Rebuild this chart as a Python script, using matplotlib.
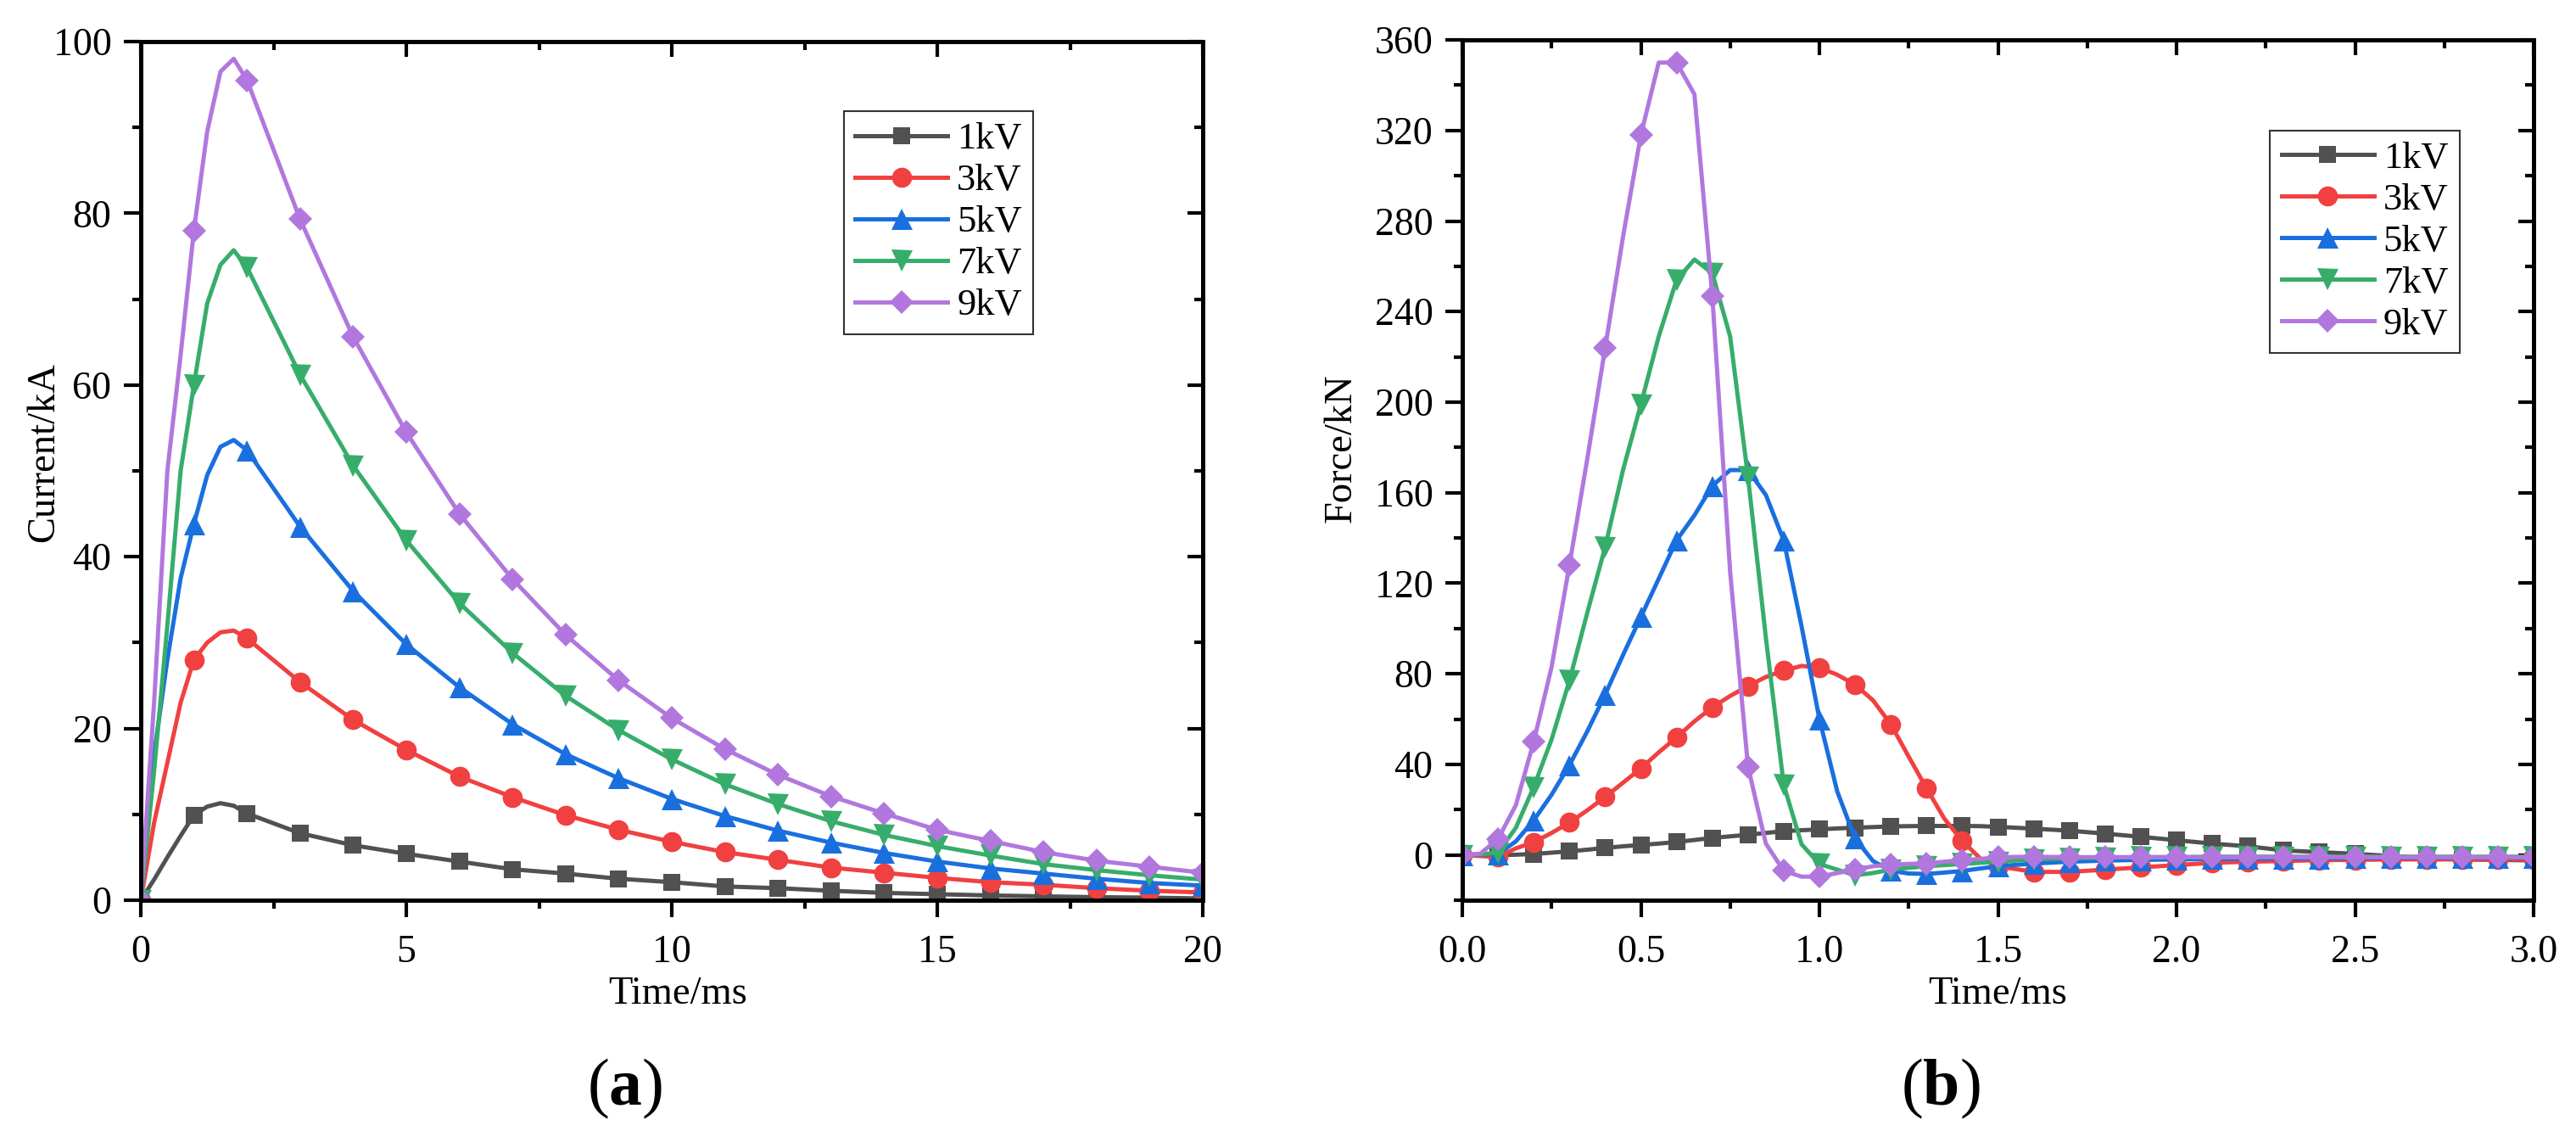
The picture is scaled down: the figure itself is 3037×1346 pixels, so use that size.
import numpy as np
import matplotlib
matplotlib.use('Agg')
import matplotlib.pyplot as plt
from matplotlib.ticker import MultipleLocator

plt.rcParams['font.family'] = ['Liberation Serif', 'DejaVu Serif']
plt.rcParams['mathtext.fontset'] = 'custom'
plt.rcParams['mathtext.rm'] = 'Liberation Serif'
plt.rcParams['mathtext.bf'] = 'Liberation Serif:bold'

# ---- panel (a): discharge current, kA ----
t_a = [0, 0.25, 0.5, 0.75, 1, 1.25, 1.5, 1.75, 2, 3, 4, 5, 6, 7, 8, 9, 10,
       11, 12, 13, 14, 15, 16, 17, 18, 19, 20]
i_1kv = [0, 2.4, 5.0, 7.5, 9.9, 10.9, 11.3, 11.0, 10.1, 7.8, 6.4, 5.4, 4.5, 3.6,
         3.1, 2.5, 2.1, 1.6, 1.4, 1.1, 0.85, 0.7, 0.55, 0.45, 0.35, 0.3, 0.2]
i_3kv = [0, 9, 16, 23, 28.0, 30.0, 31.2, 31.4, 30.5, 25.4, 21.0, 17.5, 14.4, 12.0,
         9.9, 8.2, 6.8, 5.6, 4.7, 3.8, 3.2, 2.6, 2.1, 1.8, 1.4, 1.1, 0.9]
i_5kv = [0, 17, 28, 37.5, 43.8, 49.5, 52.8, 53.6, 52.4, 43.5, 36.0, 29.8, 24.8, 20.5,
         17.0, 14.2, 11.8, 9.8, 8.1, 6.7, 5.5, 4.5, 3.7, 3.1, 2.5, 2.0, 1.7]
i_7kv = [0, 15, 32, 50, 60.0, 69.5, 74.0, 75.7, 73.7, 61.2, 50.6, 41.9, 34.6, 28.8,
         23.8, 19.8, 16.4, 13.5, 11.2, 9.2, 7.6, 6.3, 5.2, 4.2, 3.5, 2.9, 2.4]
i_9kv = [0, 23, 50, 63.5, 78.0, 89.5, 96.5, 98.0, 95.5, 79.3, 65.6, 54.5, 45.0, 37.4,
         30.9, 25.6, 21.2, 17.6, 14.6, 12.1, 10.1, 8.2, 6.9, 5.6, 4.6, 3.9, 3.2]

# ---- panel (b): electromagnetic force, kN ----
t_b = [0.00, 0.05, 0.10, 0.15, 0.20, 0.25, 0.30, 0.35, 0.40, 0.45, 0.50, 0.55,
       0.60, 0.65, 0.70, 0.75, 0.80, 0.85, 0.90, 0.95, 1.00, 1.05, 1.10, 1.15,
       1.20, 1.25, 1.30, 1.35, 1.40, 1.45, 1.50, 1.6, 1.7, 1.8, 1.9, 2.0, 2.1,
       2.2, 2.3, 2.4, 2.5, 2.6, 2.7, 2.8, 2.9, 3.0]
f_1kv = [0, -0.1, -0.2, 0.1, 0.4, 1.0, 1.6, 2.3, 3.1, 3.8, 4.4, 5.0, 5.7, 6.6, 7.5,
         8.2, 8.9, 9.7, 10.5, 10.9, 11.3, 11.7, 12.0, 12.3, 12.6, 12.7, 12.8, 12.8,
         12.8, 12.7, 12.4, 11.6, 10.7, 9.4, 8.0, 6.5, 5.0, 3.8, 2.0, 1.2, 0.5, -0.5,
         -1.5, -2.0, -2.2, -2.4]
f_3kv = [0, -0.5, -0.9, 2.9, 5.6, 9.7, 14.3, 19.7, 25.6, 31.9, 38.2, 45.3, 51.9, 59.0,
         65.2, 70.2, 74.6, 78.6, 81.4, 83.5, 82.7, 79.6, 75.2, 68.3, 57.7, 43.4, 29.4,
         16.0, 6.2, -1.5, -5.0, -7.5, -7.5, -6.5, -5.5, -4.5, -3.5, -3.0, -2.7, -2.3,
         -2.2, -2.0, -2.0, -2.0, -2.0, -2.0]
f_5kv = [0, 0.1, 0.4, 6.0, 15.3, 26.6, 39.7, 54.6, 70.8, 88.3, 105.1, 122.0, 139.0,
         150.0, 163.0, 170.0, 170.0, 159.0, 139.0, 101.0, 60.0, 28.0, 7.2, -2.7, -7.0,
         -8.2, -8.4, -7.8, -7.1, -6.0, -5.0, -3.8, -3.0, -2.5, -2.2, -2.0, -1.8, -1.7,
         -1.6, -1.5, -1.4, -1.3, -1.3, -1.2, -1.2, -1.2]
f_7kv = [0, 0.2, 1.0, 12.0, 30.0, 51.0, 77.0, 107.0, 136.0, 170.0, 199.0, 229.0, 254.0,
         263.0, 257.0, 229.0, 167.0, 96.0, 31.0, 4.7, -4.0, -6.5, -9.0, -8.0, -6.5,
         -5.7, -5.0, -4.5, -4.0, -3.5, -3.0, -2.0, -1.5, -1.2, -1.0, -1.0, -0.8, -0.8,
         -0.8, -0.8, -0.8, -0.8, -0.8, -0.8, -0.8, -0.8]
f_9kv = [0, 0.5, 7.0, 22.0, 50.0, 83.0, 128.0, 175.0, 224.0, 273.0, 318.0, 350.0, 350.0,
         336.0, 247.0, 125.0, 39.0, 5.0, -7.0, -9.6, -9.6, -8.0, -6.5, -5.0, -4.2, -4.0,
         -3.7, -3.0, -2.3, -1.8, -1.0, -0.8, -1.0, -1.0, -1.0, -1.0, -1.0, -1.0, -1.0,
         -1.0, -1.0, -1.0, -1.0, -1.0, -1.0, -1.0]

labels = ['1kV', '3kV', '5kV', '7kV', '9kV']
colors = ['#515151', '#F14040', '#1A6FDF', '#37AD6B', '#B177DE']
markers = ['s', 'o', '^', 'v', 'D']
msizes = [14.5, 17, 18, 18, 14]

FS = 33


def style_axes(ax, xlim, ylim, xmaj, xmin, ymaj, ymin):
    ax.set_xlim(*xlim)
    ax.set_ylim(*ylim)
    ax.xaxis.set_major_locator(MultipleLocator(xmaj))
    ax.xaxis.set_minor_locator(MultipleLocator(xmin))
    ax.yaxis.set_major_locator(MultipleLocator(ymaj))
    ax.yaxis.set_minor_locator(MultipleLocator(ymin))
    ax.tick_params(which='both', direction='out', width=3, labelsize=FS)
    ax.tick_params(which='major', length=14.4)
    ax.tick_params(which='minor', length=7.5)
    ax.tick_params(axis='x', pad=15)
    ax.tick_params(axis='y', pad=10.5)
    for s in ax.spines.values():
        s.set_linewidth(3.6)
    # mirrored ticks on top / right point inwards
    top = ax.secondary_xaxis('top')
    top.xaxis.set_major_locator(MultipleLocator(xmaj))
    top.xaxis.set_minor_locator(MultipleLocator(xmin))
    top.tick_params(which='both', direction='in', width=3, labeltop=False)
    top.tick_params(which='major', length=13)
    top.tick_params(which='minor', length=7)
    top.spines['top'].set_linewidth(3.6)
    right = ax.secondary_yaxis('right')
    right.yaxis.set_major_locator(MultipleLocator(ymaj))
    right.yaxis.set_minor_locator(MultipleLocator(ymin))
    right.tick_params(which='both', direction='in', width=3, labelright=False)
    right.tick_params(which='major', length=13)
    right.tick_params(which='minor', length=7)
    right.spines['right'].set_linewidth(3.6)


def draw_series(ax, t, series, every):
    for y, lab, c, m, ms in zip(series, labels, colors, markers, msizes):
        ax.plot(t, y, color=c, lw=3.6, marker=m, ms=ms, markevery=every,
                markeredgewidth=0, label=lab)


fig = plt.figure(figsize=(30.37, 13.46), dpi=100)
ax1 = fig.add_axes([0.05466, 0.21174, 0.41225, 0.75186])
ax2 = fig.add_axes([0.56767, 0.21174, 0.41587, 0.75330])

every_a = [i for i, t in enumerate(t_a) if float(t).is_integer()]
draw_series(ax1, t_a, [i_1kv, i_3kv, i_5kv, i_7kv, i_9kv], every_a)
style_axes(ax1, (0, 20), (0, 100), 5, 2.5, 20, 10)
ax1.set_xlabel('Time/ms', fontsize=33.5)
ax1.set_ylabel('Current/kA', fontsize=33.5)
ax1.xaxis.set_label_coords(0.506, -0.088)
ax1.yaxis.set_label_coords(-0.074, 0.522)

every_b = [i for i, t in enumerate(t_b) if abs(t * 10 - round(t * 10)) < 1e-6]
draw_series(ax2, t_b, [f_1kv, f_3kv, f_5kv, f_7kv, f_9kv], every_b)
style_axes(ax2, (0, 3.0), (-20, 360), 0.5, 0.25, 40, 20)
ax2.xaxis.set_major_formatter(plt.FormatStrFormatter('%.1f'))
ax2.set_xlabel('Time/ms', fontsize=33.5)
ax2.set_ylabel('Force/kN', fontsize=33.5)
ax2.xaxis.set_label_coords(0.500, -0.088)
ax2.yaxis.set_label_coords(-0.096, 0.525)

for ax, anchor in ((ax1, (0.662, 0.919)), (ax2, (0.754, 0.895))):
    leg = ax.legend(loc='upper left', bbox_to_anchor=anchor, fontsize=32,
                    frameon=True, fancybox=False, edgecolor='black',
                    handlelength=2.45, handletextpad=0.25, numpoints=1,
                    labelspacing=0.2, borderpad=0.3, borderaxespad=0)
    leg.get_frame().set_linewidth(1.5)

fig.text(737 / 3037, 1 - 1283 / 1346, r'($\mathbf{a}$)', ha='center',
         va='center', fontsize=56)
fig.text(2288 / 3037, 1 - 1283 / 1346, r'($\mathbf{b}$)', ha='center',
         va='center', fontsize=56)

fig.savefig('out.png', dpi=100)
